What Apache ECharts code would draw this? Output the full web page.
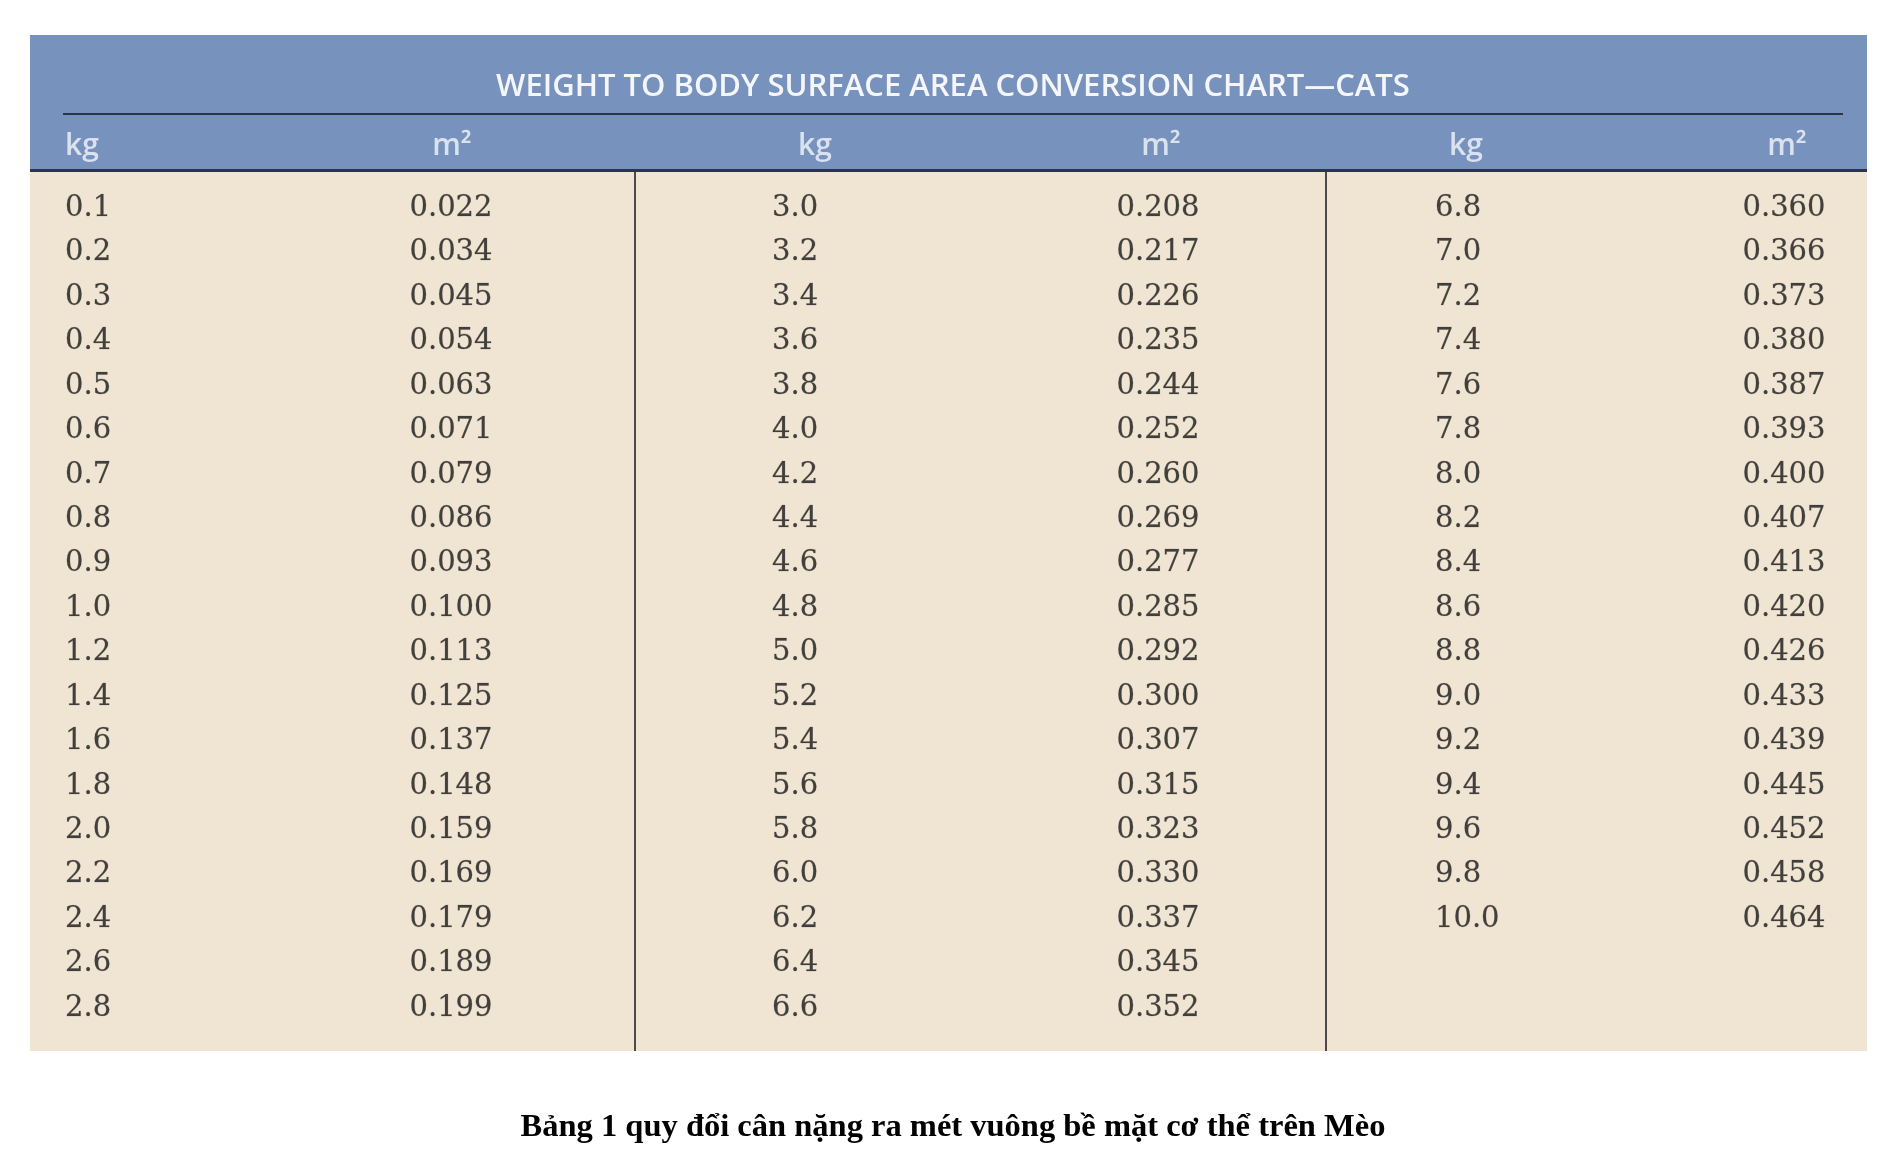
<!DOCTYPE html>
<html>
<head>
<meta charset="utf-8">
<script src="https://cdn.jsdelivr.net/npm/echarts@6/dist/echarts.min.js"></script>
<style>
html,body{margin:0;padding:0;background:#ffffff;}
#chart{width:1900px;height:1169px;}
</style>
</head>
<body>
<div id="chart"></div>
<script>
// ---- Data ----
const titleText = 'WEIGHT TO BODY SURFACE AREA CONVERSION CHART\u2014CATS';
const captionText = 'Bảng 1 quy đổi cân nặng ra mét vuông bề mặt cơ thể trên Mèo';
const headerLabels = ['kg', 'm\u00b2', 'kg', 'm\u00b2', 'kg', 'm\u00b2'];

const kgCol1 = ['0.1','0.2','0.3','0.4','0.5','0.6','0.7','0.8','0.9','1.0','1.2','1.4','1.6','1.8','2.0','2.2','2.4','2.6','2.8'];
const m2Col1 = ['0.022','0.034','0.045','0.054','0.063','0.071','0.079','0.086','0.093','0.100','0.113','0.125','0.137','0.148','0.159','0.169','0.179','0.189','0.199'];
const kgCol2 = ['3.0','3.2','3.4','3.6','3.8','4.0','4.2','4.4','4.6','4.8','5.0','5.2','5.4','5.6','5.8','6.0','6.2','6.4','6.6'];
const m2Col2 = ['0.208','0.217','0.226','0.235','0.244','0.252','0.260','0.269','0.277','0.285','0.292','0.300','0.307','0.315','0.323','0.330','0.337','0.345','0.352'];
const kgCol3 = ['6.8','7.0','7.2','7.4','7.6','7.8','8.0','8.2','8.4','8.6','8.8','9.0','9.2','9.4','9.6','9.8','10.0'];
const m2Col3 = ['0.360','0.366','0.373','0.380','0.387','0.393','0.400','0.407','0.413','0.420','0.426','0.433','0.439','0.445','0.452','0.458','0.464'];

// ---- Layout (kept separate from data) ----
const TABLE_L = 30, TABLE_R = 1867, TABLE_T = 35, HEAD_B = 172, BODY_B = 1051;
const colLayout = [
  {x: 65,   align: 'left'},
  {x: 451,  align: 'center'},
  {x: 772,  align: 'left'},
  {x: 1158, align: 'center'},
  {x: 1435, align: 'left'},
  {x: 1784, align: 'center'}
];
const headLayout = [
  {x: 65,   align: 'left'},
  {x: 452,  align: 'center'},
  {x: 815,  align: 'center'},
  {x: 1161, align: 'center'},
  {x: 1466, align: 'center'},
  {x: 1787, align: 'center'}
];
const separators = [635, 1326];
const ROW0 = 208.4, ROWH = 44.43;
const HEAD_ROW_Y = 146;

const bodyCols = [kgCol1, m2Col1, kgCol2, m2Col2, kgCol3, m2Col3];

const chart = echarts.init(document.getElementById('chart'), null, {renderer: 'canvas'});

const bodySeries = bodyCols.map((col, ci) => ({
  type: 'scatter',
  xAxisIndex: 0, yAxisIndex: 0,
  symbolSize: 0,
  silent: true,
  data: col.map((v, i) => [colLayout[ci].x, i, v]),
  label: {
    show: true,
    position: 'inside',
    align: colLayout[ci].align,
    verticalAlign: 'middle',
    formatter: p => p.data[2],
    fontFamily: 'DejaVu Serif',
    fontSize: 29,
    color: '#161616',
    textBorderColor: 'rgba(22,22,22,0.35)',
    textBorderWidth: 0.6
  },
  emphasis: {disabled: true},
  markLine: ci === 0 ? {
    silent: true,
    symbol: 'none',
    label: {show: false},
    lineStyle: {color: '#4a4a4a', width: 2, type: 'solid'},
    data: separators.map(x => ({xAxis: x}))
  } : undefined
}));

const headerSeries = {
  type: 'scatter',
  xAxisIndex: 1, yAxisIndex: 1,
  symbolSize: 0,
  silent: true,
  data: headerLabels.map((t, i) => ({
    value: [headLayout[i].x, HEAD_ROW_Y, t],
    label: {align: headLayout[i].align}
  })),
  label: {
    show: true,
    position: 'inside',
    verticalAlign: 'middle',
    formatter: p => p.data.value[2],
    fontFamily: 'Open Sans',
    fontWeight: 600,
    fontSize: 30,
    color: '#f4f6fb'
  },
  emphasis: {disabled: true},
  markLine: {
    silent: true,
    symbol: 'none',
    label: {show: false},
    data: [
      [{coord: [63, 114]}, {coord: [1843, 114]}],
      [{coord: [TABLE_L, 170.5], lineStyle: {width: 3, color: '#2b3549'}}, {coord: [TABLE_R, 170.5]}]
    ],
    lineStyle: {color: '#2b3549', width: 2, type: 'solid'}
  }
};

const option = {
  animation: false,
  backgroundColor: '#ffffff',
  title: [
    {
      text: titleText,
      left: 948, top: 66,
      textAlign: 'center',
      textStyle: {fontFamily: 'Open Sans', fontWeight: 600, fontSize: 31, lineHeight: 32, color: '#f4f6fb'}
    },
    {
      text: captionText,
      left: 948, top: 1106,
      textAlign: 'center',
      textStyle: {fontFamily: 'Liberation Serif', fontWeight: 'bold', fontSize: 32.5, lineHeight: 34, color: '#000000'}
    }
  ],
  grid: [
    {left: TABLE_L, width: TABLE_R - TABLE_L, top: HEAD_B, height: BODY_B - HEAD_B,
     show: true, backgroundColor: '#f0e5d3', borderWidth: 0},
    {left: TABLE_L, width: TABLE_R - TABLE_L, top: TABLE_T, height: HEAD_B - TABLE_T,
     show: true, backgroundColor: '#7792bd', borderWidth: 0}
  ],
  xAxis: [
    {gridIndex: 0, type: 'value', min: TABLE_L, max: TABLE_R, show: false},
    {gridIndex: 1, type: 'value', min: TABLE_L, max: TABLE_R, show: false}
  ],
  yAxis: [
    {gridIndex: 0, type: 'value', inverse: true,
     min: (HEAD_B - ROW0) / ROWH, max: (BODY_B - ROW0) / ROWH, show: false},
    {gridIndex: 1, type: 'value', inverse: true, min: TABLE_T, max: HEAD_B, show: false}
  ],
  series: [...bodySeries, headerSeries]
};

chart.setOption(option);
</script>
</body>
</html>
